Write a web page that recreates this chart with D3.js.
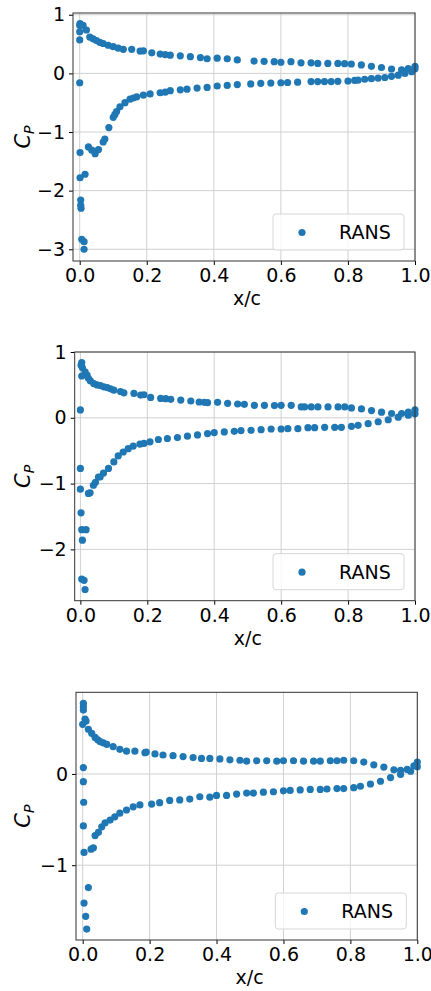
<!DOCTYPE html>
<html>
<head>
<meta charset="utf-8">
<script src="https://cdn.jsdelivr.net/npm/d3@7"></script>
<style>
  html, body { margin: 0; padding: 0; background: #fff; }
  svg { display: block; }
  text { font-family: "DejaVu Sans", sans-serif; fill: #000; }
</style>
</head>
<body>
<svg id="chart" width="431" height="991"></svg>
<script>
// ---- Data (x/c, Cp) ----
const xTicks = [0, 0.2, 0.4, 0.6, 0.8, 1.0];
const xTickLabels = ["0.0", "0.2", "0.4", "0.6", "0.8", "1.0"];
const legendLabel = "RANS";

const panel1Upper = [[0.001,0.85],[0.0,0.82],[0.0,0.71],[0.0,0.57],[0.01,0.82],[0.02,0.74],[0.03,0.62],[0.04,0.59],[0.05,0.56],[0.06,0.53],[0.07,0.51],[0.085,0.48],[0.10,0.455],[0.115,0.43],[0.13,0.41],[0.155,0.41],[0.18,0.38],[0.19,0.385],[0.215,0.35],[0.24,0.33],[0.255,0.32],[0.27,0.31],[0.30,0.30],[0.33,0.285],[0.36,0.27],[0.38,0.25],[0.41,0.26],[0.44,0.25],[0.47,0.23],[0.52,0.21],[0.55,0.205],[0.58,0.20],[0.60,0.19],[0.63,0.20],[0.66,0.18],[0.69,0.18],[0.71,0.17],[0.74,0.17],[0.77,0.17],[0.79,0.165],[0.81,0.16],[0.84,0.145],[0.87,0.12],[0.90,0.10],[0.93,0.075],[0.96,0.06],[0.98,0.08],[1.0,0.12]];
const panel1Lower = [[0.0,-0.16],[0.001,-1.35],[0.001,-1.78],[0.016,-1.72],[0.003,-2.16],[0.003,-2.25],[0.004,-2.30],[0.006,-2.83],[0.013,-2.87],[0.013,-3.0],[0.026,-1.255],[0.036,-1.31],[0.046,-1.37],[0.056,-1.30],[0.07,-1.17],[0.075,-1.12],[0.087,-0.925],[0.10,-0.75],[0.105,-0.70],[0.11,-0.65],[0.12,-0.57],[0.135,-0.50],[0.15,-0.44],[0.16,-0.42],[0.17,-0.40],[0.19,-0.37],[0.21,-0.35],[0.24,-0.33],[0.255,-0.32],[0.27,-0.295],[0.30,-0.28],[0.32,-0.27],[0.35,-0.25],[0.38,-0.24],[0.41,-0.215],[0.44,-0.205],[0.47,-0.19],[0.51,-0.18],[0.54,-0.17],[0.57,-0.165],[0.60,-0.16],[0.62,-0.155],[0.65,-0.15],[0.69,-0.14],[0.71,-0.14],[0.73,-0.14],[0.75,-0.14],[0.77,-0.135],[0.80,-0.13],[0.82,-0.12],[0.83,-0.115],[0.85,-0.10],[0.87,-0.09],[0.89,-0.08],[0.91,-0.07],[0.93,-0.05],[0.95,-0.03],[0.97,0.0],[0.99,0.03],[1.0,0.08]];

const panel2Upper = [[0.004,0.84],[0.002,0.80],[0.006,0.76],[0.004,0.635],[0.014,0.70],[0.02,0.65],[0.024,0.60],[0.03,0.56],[0.04,0.52],[0.05,0.50],[0.06,0.49],[0.07,0.47],[0.08,0.46],[0.09,0.44],[0.10,0.42],[0.12,0.40],[0.13,0.38],[0.16,0.37],[0.18,0.345],[0.19,0.35],[0.21,0.31],[0.24,0.295],[0.255,0.29],[0.27,0.28],[0.30,0.27],[0.33,0.255],[0.355,0.24],[0.37,0.235],[0.38,0.23],[0.41,0.235],[0.44,0.22],[0.47,0.21],[0.49,0.205],[0.52,0.19],[0.55,0.19],[0.58,0.185],[0.60,0.19],[0.63,0.19],[0.66,0.165],[0.67,0.165],[0.69,0.165],[0.71,0.165],[0.74,0.165],[0.77,0.165],[0.79,0.165],[0.81,0.15],[0.84,0.135],[0.87,0.11],[0.90,0.085],[0.93,0.065],[0.96,0.065],[0.98,0.085],[1.0,0.12],[0.0,0.12]];
const panel2Lower = [[0.0,-0.77],[0.0,-1.085],[0.029,-1.14],[0.024,-1.15],[0.039,-1.025],[0.045,-0.98],[0.054,-0.90],[0.059,-0.90],[0.069,-0.84],[0.084,-0.77],[0.10,-0.67],[0.113,-0.58],[0.128,-0.52],[0.143,-0.47],[0.158,-0.43],[0.178,-0.40],[0.19,-0.39],[0.208,-0.365],[0.233,-0.33],[0.26,-0.315],[0.29,-0.30],[0.32,-0.28],[0.35,-0.26],[0.38,-0.24],[0.40,-0.225],[0.43,-0.215],[0.46,-0.205],[0.48,-0.195],[0.51,-0.19],[0.54,-0.18],[0.57,-0.17],[0.60,-0.17],[0.62,-0.165],[0.65,-0.165],[0.68,-0.15],[0.70,-0.15],[0.73,-0.145],[0.76,-0.145],[0.78,-0.145],[0.81,-0.13],[0.83,-0.115],[0.86,-0.09],[0.89,-0.06],[0.92,-0.03],[0.95,0.01],[0.98,0.04],[1.0,0.06],[0.002,-1.445],[0.004,-1.70],[0.017,-1.70],[0.006,-1.86],[0.004,-2.45],[0.011,-2.47],[0.014,-2.61]];

const panel3Upper = [[0.002,0.774],[0.002,0.737],[0.002,0.70],[0.007,0.60],[0.01,0.58],[0.0,0.544],[0.017,0.49],[0.027,0.445],[0.037,0.40],[0.045,0.375],[0.052,0.355],[0.062,0.34],[0.072,0.325],[0.091,0.30],[0.111,0.27],[0.131,0.25],[0.156,0.25],[0.186,0.233],[0.19,0.24],[0.216,0.22],[0.24,0.208],[0.27,0.20],[0.30,0.19],[0.33,0.18],[0.355,0.17],[0.38,0.17],[0.41,0.165],[0.44,0.155],[0.47,0.15],[0.49,0.14],[0.52,0.145],[0.55,0.145],[0.58,0.14],[0.60,0.145],[0.63,0.145],[0.66,0.14],[0.69,0.14],[0.71,0.14],[0.74,0.145],[0.76,0.145],[0.78,0.15],[0.81,0.145],[0.84,0.13],[0.87,0.10],[0.90,0.075],[0.93,0.045],[0.95,0.04],[0.97,0.05],[0.99,0.09],[1.0,0.13],[0.002,0.07]];
const panel3Lower = [[0.002,-0.085],[0.003,-0.31],[0.002,-0.57],[0.004,-0.86],[0.025,-0.825],[0.032,-0.81],[0.037,-0.675],[0.047,-0.64],[0.057,-0.58],[0.067,-0.535],[0.082,-0.505],[0.096,-0.47],[0.111,-0.43],[0.131,-0.395],[0.151,-0.36],[0.171,-0.34],[0.206,-0.33],[0.23,-0.315],[0.26,-0.29],[0.29,-0.285],[0.32,-0.275],[0.35,-0.25],[0.38,-0.255],[0.40,-0.235],[0.43,-0.235],[0.46,-0.22],[0.49,-0.21],[0.51,-0.21],[0.54,-0.2],[0.57,-0.195],[0.60,-0.185],[0.62,-0.18],[0.65,-0.175],[0.68,-0.17],[0.71,-0.17],[0.73,-0.165],[0.76,-0.16],[0.78,-0.16],[0.81,-0.15],[0.83,-0.135],[0.86,-0.11],[0.89,-0.08],[0.92,-0.04],[0.95,-0.005],[0.98,0.03],[1.0,0.08],[0.017,-1.245],[0.004,-1.415],[0.009,-1.56],[0.012,-1.70]];

const panel1YTicks = [1, 0, -1, -2, -3];
const panel2YTicks = [1, 0, -1, -2];
const panel3YTicks = [0, -1];

// ---- Layout ----
const panels = [
  { pts: panel1Upper.concat(panel1Lower), yTicks: panel1YTicks, left: 73, right: 415, top: 13, bottom: 261, xDom: [-0.02, 1.0], yDom: [-3.2, 1.03] },
  { pts: panel2Upper.concat(panel2Lower), yTicks: panel2YTicks, left: 74.7, right: 415, top: 352, bottom: 600.7, xDom: [-0.017, 1.0], yDom: [-2.78, 1.0] },
  { pts: panel3Upper.concat(panel3Lower), yTicks: panel3YTicks, left: 76, right: 417.3, top: 692.3, bottom: 940, xDom: [-0.02, 1.0], yDom: [-1.82, 0.895] }
];

const color = "#1f77b4";
const fontSize = 19;
const svg = d3.select("#chart");

panels.forEach(p => {
  const x = d3.scaleLinear().domain(p.xDom).range([p.left, p.right]);
  const y = d3.scaleLinear().domain(p.yDom).range([p.bottom, p.top]);
  const g = svg.append("g");

  // grid
  g.append("g").selectAll("line.gx").data(xTicks).join("line")
    .attr("x1", d => x(d)).attr("x2", d => x(d))
    .attr("y1", p.top).attr("y2", p.bottom)
    .attr("stroke", "#d0d0d0").attr("stroke-width", 1);
  g.append("g").selectAll("line.gy").data(p.yTicks).join("line")
    .attr("x1", p.left).attr("x2", p.right)
    .attr("y1", d => y(d)).attr("y2", d => y(d))
    .attr("stroke", "#d0d0d0").attr("stroke-width", 1);

  // points
  g.append("g").selectAll("circle").data(p.pts).join("circle")
    .attr("cx", d => x(d[0])).attr("cy", d => y(d[1]))
    .attr("r", 3.6).attr("fill", color);

  // axes
  const xAxis = d3.axisBottom(x).tickValues(xTicks)
    .tickFormat((d, i) => xTickLabels[i]).tickSize(4).tickPadding(4);
  const gx = g.append("g").attr("transform", `translate(0,${p.bottom})`).call(xAxis);
  gx.select(".domain").remove();
  gx.selectAll("line").attr("stroke", "#000").attr("stroke-width", 1);
  gx.selectAll("text").attr("font-size", fontSize).attr("font-family", "DejaVu Sans").attr("fill", "#000");

  const yAxis = d3.axisLeft(y).tickValues(p.yTicks)
    .tickFormat(d => d < 0 ? "\u2212" + Math.abs(d) : String(d)).tickSize(4).tickPadding(4);
  const gy = g.append("g").attr("transform", `translate(${p.left},0)`).call(yAxis);
  gy.select(".domain").remove();
  gy.selectAll("line").attr("stroke", "#000").attr("stroke-width", 1);
  gy.selectAll("text").attr("font-size", fontSize).attr("font-family", "DejaVu Sans").attr("fill", "#000");

  // frame
  g.append("rect").attr("x", p.left).attr("y", p.top)
    .attr("width", p.right - p.left).attr("height", p.bottom - p.top)
    .attr("fill", "none").attr("stroke", "#333").attr("stroke-width", 1);

  // x label
  g.append("text").attr("x", (p.left + p.right) / 2 + 3).attr("y", p.bottom + 44)
    .attr("text-anchor", "middle").attr("font-size", fontSize).text("x/c");

  // y label C_P
  const cy = (p.top + p.bottom) / 2;
  const yl = g.append("text").attr("transform", `translate(30,${cy}) rotate(-90)`)
    .attr("text-anchor", "middle").attr("font-size", 21).attr("font-style", "italic");
  yl.append("tspan").text("C");
  yl.append("tspan").attr("font-size", 14).attr("dy", 4).text("P");

  // legend
  const lw = 131, lh = 36;
  const lx = p.right - 11 - lw, ly = p.bottom - 11 - lh;
  g.append("rect").attr("x", lx).attr("y", ly).attr("width", lw).attr("height", lh)
    .attr("rx", 3).attr("fill", "#fff").attr("fill-opacity", 0.8)
    .attr("stroke", "#d6d6d6").attr("stroke-width", 1);
  g.append("circle").attr("cx", lx + 29).attr("cy", ly + 18.5).attr("r", 3.6).attr("fill", color);
  g.append("text").attr("x", lx + 66).attr("y", ly + 25).attr("font-size", fontSize).text(legendLabel);
});
</script>
</body>
</html>
